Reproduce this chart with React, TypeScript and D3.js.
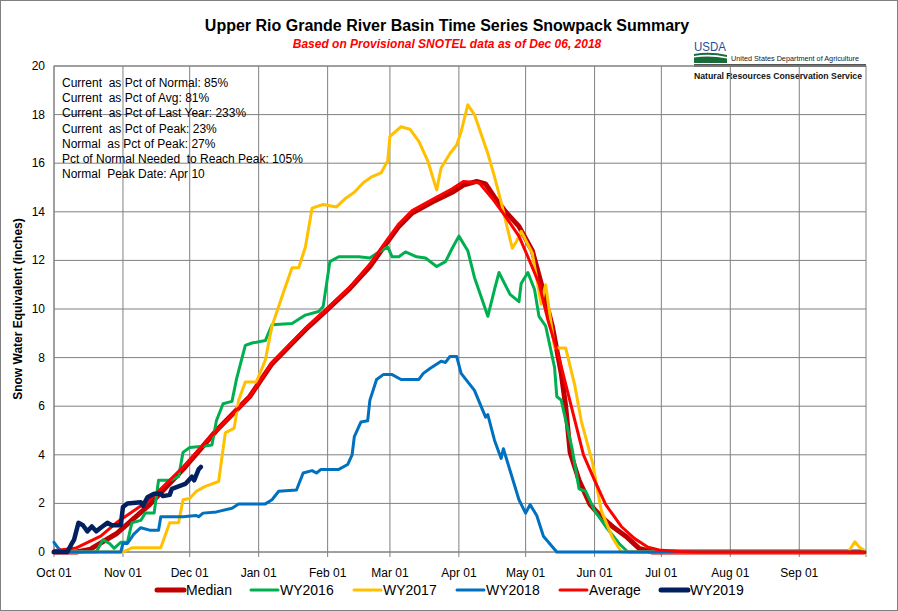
import React from 'react';
import * as d3 from 'd3';

// days since Oct 01 (water year day) and SWE in inches
const medianDays = [0, 10, 16, 28, 43, 58, 73, 88, 98, 113, 122, 133, 142, 149, 155, 161, 170, 179, 184, 190, 194, 198, 203, 209, 215, 219, 224, 228, 230, 232, 236, 241, 246, 251, 257, 263, 269, 364];
const medianVals = [0, 0, 0.1, 0.75, 1.95, 3.4, 5.0, 6.4, 7.75, 9.15, 9.9, 10.85, 11.75, 12.65, 13.4, 13.95, 14.4, 14.8, 15.1, 15.25, 15.15, 14.6, 14.0, 13.4, 12.4, 11.05, 9.3, 7.35, 6.0, 4.1, 2.95, 1.95, 1.45, 1.05, 0.65, 0.15, 0, 0];

const averageDays = [0, 10, 21, 28, 43, 58, 73, 88, 98, 113, 122, 133, 142, 149, 155, 161, 170, 179, 184, 191, 197, 203, 209, 213, 218, 222, 227, 231, 235, 238, 243, 248, 255, 261, 267, 272, 281, 290, 364];
const averageVals = [0.05, 0.17, 0.65, 1.2, 2.15, 3.5, 5.0, 6.4, 7.8, 9.2, 9.95, 10.9, 11.85, 12.75, 13.5, 14.05, 14.5, 14.95, 15.25, 15.2, 14.55, 13.8, 13.0, 12.15, 11.05, 9.55, 8.0, 6.55, 5.1, 4.0, 2.95, 1.95, 1.05, 0.55, 0.2, 0.08, 0.02, 0, 0];

const wy2016Days = [0, 19, 22, 25, 27, 30, 33, 35, 39, 41, 45, 47, 52, 56, 58, 61, 67, 71, 73, 76, 80, 82, 86, 89, 95, 98, 107, 113, 119, 121, 124, 128, 137, 142, 146, 150, 152, 155, 158, 163, 167, 172, 176, 179, 182, 186, 189, 192, 195, 198, 200, 205, 209, 210, 213, 216, 218, 221, 225, 226, 228, 233, 236, 239, 243, 248, 254, 258, 364];
const wy2016Vals = [0, 0, 0.5, 0.35, 0.15, 0.4, 0.4, 1.2, 1.3, 1.6, 1.6, 2.95, 2.95, 3.1, 4.1, 4.3, 4.35, 4.4, 5.4, 6.1, 6.2, 7.1, 8.5, 8.6, 8.7, 9.35, 9.4, 9.75, 9.9, 10.1, 11.95, 12.15, 12.15, 12.1, 12.35, 12.55, 12.15, 12.15, 12.35, 12.15, 12.1, 11.75, 11.95, 12.5, 13.0, 12.4, 11.3, 10.5, 9.7, 10.8, 11.5, 10.6, 10.3, 11.05, 11.5, 10.8, 9.7, 9.3, 7.6, 6.4, 6.25, 4.2, 2.6, 2.5, 1.7, 1.05, 0.35, 0, 0];

const wy2017Days = [0, 31, 35, 48, 52, 56, 58, 61, 64, 68, 74, 77, 81, 83, 86, 91, 95, 98, 103, 107, 110, 113, 116, 121, 127, 131, 135, 139, 143, 147, 150, 151, 156, 160, 164, 168, 172, 174, 178, 181, 183, 186, 189, 192, 195, 198, 201, 204, 206, 208, 210, 215, 219, 221, 225, 230, 234, 237, 242, 246, 251, 255, 357, 360, 362, 364];
const wy2017Vals = [0, 0, 0.17, 0.17, 1.2, 1.2, 2.15, 2.2, 2.5, 2.7, 2.9, 4.9, 5.1, 6.25, 7.0, 7.0, 7.9, 9.3, 10.65, 11.7, 11.7, 12.55, 14.15, 14.3, 14.2, 14.55, 14.8, 15.2, 15.45, 15.6, 16.1, 17.1, 17.5, 17.4, 16.9, 16.1, 14.9, 15.8, 16.4, 16.75, 17.3, 18.4, 18.0, 17.2, 16.4, 15.45, 14.4, 13.25, 12.5, 12.8, 13.2, 12.3, 10.2, 11.0, 8.4, 8.4, 6.9, 5.4, 3.7, 1.7, 0.6, 0, 0, 0.42, 0.2, 0.08];

const wy2018Days = [0, 2, 4, 30, 31, 33, 36, 39, 43, 47, 48, 58, 64, 65, 67, 73, 80, 83, 95, 98, 101, 109, 112, 116, 118, 120, 128, 132, 134, 135, 138, 141, 142, 145, 148, 152, 156, 164, 166, 169, 174, 176, 178, 181, 183, 189, 194, 195, 198, 201, 202, 204, 209, 212, 214, 217, 220, 226, 364];
const wy2018Vals = [0.4, 0.15, 0, 0, 0.35, 0.35, 0.75, 1.0, 0.9, 0.9, 1.45, 1.45, 1.5, 1.45, 1.6, 1.65, 1.8, 1.98, 1.98, 2.15, 2.5, 2.55, 3.25, 3.35, 3.25, 3.4, 3.4, 3.6, 4.0, 4.75, 5.35, 5.4, 6.25, 7.1, 7.3, 7.3, 7.1, 7.1, 7.35, 7.55, 7.85, 7.8, 8.05, 8.05, 7.35, 6.65, 5.55, 5.65, 4.6, 3.85, 4.25, 3.65, 2.15, 1.6, 1.95, 1.5, 0.65, 0, 0];

const wy2019Days = [0, 6, 8, 9, 11, 13, 15, 17, 19, 21, 24, 26, 30, 31, 33, 39, 40, 42, 45, 48, 49, 52, 53, 56, 59, 62, 63, 65, 66];
const wy2019Vals = [0, 0, 0.35, 0.5, 1.2, 1.1, 0.85, 1.05, 0.85, 1.0, 1.2, 1.1, 1.1, 1.85, 2.0, 2.05, 1.9, 2.25, 2.4, 2.4, 2.3, 2.35, 2.6, 2.7, 2.8, 3.1, 2.95, 3.4, 3.5];

const statLines = [
  'Current  as Pct of Normal: 85%',
  'Current  as Pct of Avg: 81%',
  'Current  as Pct of Last Year: 233%',
  'Current  as Pct of Peak: 23%',
  'Normal  as Pct of Peak: 27%',
  'Pct of Normal Needed  to Reach Peak: 105%',
  'Normal  Peak Date: Apr 10',
];

const yTicks = [0, 2, 4, 6, 8, 10, 12, 14, 16, 18, 20];

const series = [
  { name: 'Median', days: medianDays, vals: medianVals, color: '#C00000', width: 5 },
  { name: 'WY2016', days: wy2016Days, vals: wy2016Vals, color: '#00B050', width: 3 },
  { name: 'WY2017', days: wy2017Days, vals: wy2017Vals, color: '#FFC000', width: 3 },
  { name: 'WY2018', days: wy2018Days, vals: wy2018Vals, color: '#0070C0', width: 3 },
  { name: 'Average', days: averageDays, vals: averageVals, color: '#FF0000', width: 3 },
  { name: 'WY2019', days: wy2019Days, vals: wy2019Vals, color: '#002060', width: 4.5 },
];

const W = 898;
const H = 611;
const left = 54, right = 866, top = 66, bottom = 552;
const font = 'Arial, "Liberation Sans", sans-serif';

const start = new Date(Date.UTC(2017, 9, 1));
const end = new Date(Date.UTC(2018, 9, 1));

export default function App() {
  const x = d3.scaleUtc().domain([start, end]).range([left, right]);
  const y = d3.scaleLinear().domain([0, 20]).range([bottom, top]);
  const months = d3.utcMonth.range(start, end);
  const fmt = d3.utcFormat('%b %d');

  const line = d3
    .line<[number, number]>()
    .x(d => x(d3.utcDay.offset(start, d[0])))
    .y(d => y(d[1]));

  const legendX = [157, 251, 354, 457, 560, 661];

  return (
    <svg width={W} height={H} style={{ position: 'absolute', left: 0, top: 0, fontFamily: font }}>
      <rect x={0.5} y={0.5} width={W - 1} height={H - 1} fill="#fff" stroke="#808080" />

      <text x={447} y={31} textAnchor="middle" fontSize={16} fontWeight="bold">
        Upper Rio Grande River Basin Time Series Snowpack Summary
      </text>
      <text x={447} y={48} textAnchor="middle" fontSize={12} fontWeight="bold" fontStyle="italic" fill="#FF0000">
        Based on Provisional SNOTEL data as of Dec 06, 2018
      </text>

      {/* USDA logo */}
      <g>
        <text x={694} y={51} fontSize={13} fill="#1F4E9A" fontFamily="Arial Narrow, Liberation Sans Narrow, Arial" textLength={32} lengthAdjust="spacingAndGlyphs">USDA</text>
        <path d="M694,54 Q710,51 727,55 L727,63 L694,63 Z" fill="#1A6B3A" />
        <path d="M694,56 Q710,53 727,57 L727,58.5 Q710,55 694,57.5 Z" fill="#fff" />
        <text x={731} y={61} fontSize={7.5} fill="#222" textLength={128} lengthAdjust="spacingAndGlyphs">United States Department of Agriculture</text>
        <rect x={694} y={64} width={172} height={3} fill="#555" />
        <text x={694} y={79} fontSize={9} fontWeight="bold" fill="#111" textLength={168} lengthAdjust="spacingAndGlyphs">Natural Resources Conservation Service</text>
      </g>

      {/* grid */}
      {yTicks.map(t => (
        <line key={'gy' + t} x1={left} x2={right} y1={y(t)} y2={y(t)} stroke="#808080" strokeWidth={1} />
      ))}
      {months.map(m => (
        <line key={'gx' + m.getTime()} x1={x(m)} x2={x(m)} y1={top} y2={bottom} stroke="#808080" strokeWidth={1} />
      ))}
      <rect x={left} y={top} width={right - left} height={bottom - top} fill="none" stroke="#808080" />
      {months.map(m => (
        <line key={'tk' + m.getTime()} x1={x(m)} x2={x(m)} y1={bottom} y2={bottom + 5} stroke="#808080" />
      ))}
      <line x1={right} x2={right} y1={bottom} y2={bottom + 5} stroke="#808080" />

      {/* axis labels */}
      {yTicks.map(t => (
        <text key={'yl' + t} x={45} y={y(t) + 4} textAnchor="end" fontSize={12}>{t}</text>
      ))}
      {months.map(m => (
        <text key={'xl' + m.getTime()} x={x(m)} y={577} textAnchor="middle" fontSize={12}>{fmt(m)}</text>
      ))}
      <text transform={`translate(22,${(top + bottom) / 2}) rotate(-90)`} textAnchor="middle" fontSize={12} fontWeight="bold">
        Snow Water Equivalent (inches)
      </text>

      {/* stats */}
      {statLines.map((s, i) => (
        <text key={'st' + i} x={62} y={87 + i * 15.2} fontSize={12} style={{ whiteSpace: 'pre' }}>{s}</text>
      ))}

      {/* series */}
      {series.map(s => (
        <path
          key={s.name}
          d={line(s.days.map((d, i) => [d, s.vals[i]] as [number, number])) || ''}
          fill="none"
          stroke={s.color}
          strokeWidth={s.width}
          strokeLinejoin="round"
          strokeLinecap="round"
        />
      ))}

      {/* legend */}
      {series.map((s, i) => (
        <g key={'lg' + s.name}>
          <line x1={legendX[i]} x2={legendX[i] + 27} y1={590} y2={590} stroke={s.color} strokeWidth={s.width === 3 ? 3 : 5} strokeLinecap="round" />
          <text x={legendX[i] + 29} y={595} fontSize={14}>{s.name}</text>
        </g>
      ))}
    </svg>
  );
}
